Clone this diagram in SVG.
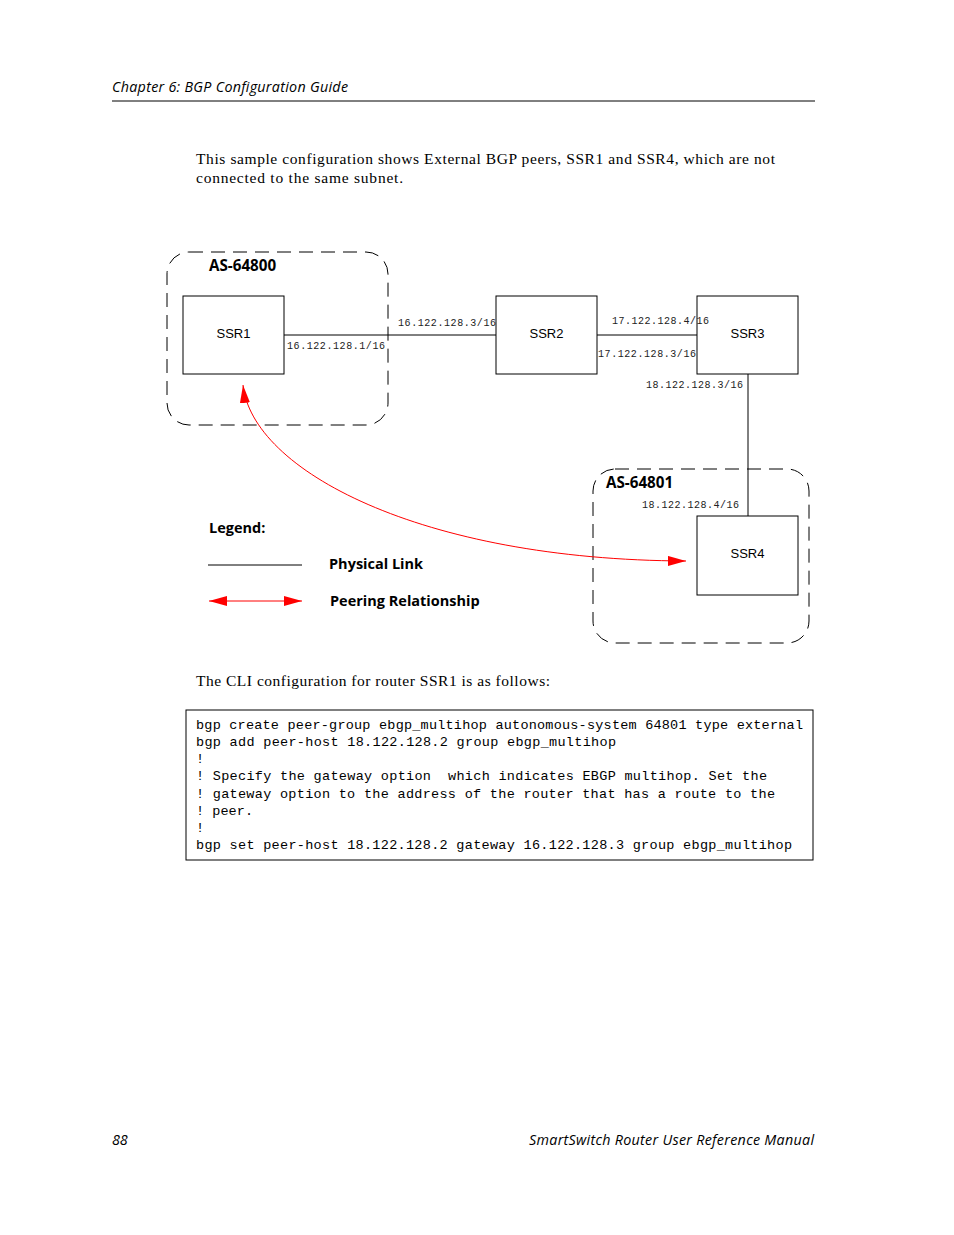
<svg xmlns="http://www.w3.org/2000/svg" width="954" height="1235" viewBox="0 0 954 1235">
<style>
.hdr{font-family:"Open Sans","Liberation Sans",sans-serif;font-style:italic;font-size:14.3px;fill:#000}
.body{font-family:"Liberation Serif",serif;font-size:15.5px;fill:#000}
.node{fill:#fff;stroke:#000;stroke-width:1}
.nlabel{font-family:"Liberation Sans",Arial,sans-serif;font-size:13px;text-anchor:middle;fill:#000}
.ip{font-family:"Liberation Mono",monospace;font-size:10px;fill:#222}
.as{fill:none;stroke:#000;stroke-width:1;stroke-dasharray:14 8}
.bold{font-family:"Open Sans","Liberation Sans",sans-serif;font-weight:bold;font-size:14.5px;fill:#000}
.asl{font-family:"Open Sans","Liberation Sans",sans-serif;font-weight:bold;font-size:15.2px;fill:#000}
.link{stroke:#000;stroke-width:1;fill:none}
.peer{stroke:#f00;stroke-width:1;fill:none}
.code{font-family:"Liberation Mono","DejaVu Sans Mono",monospace;font-size:13.5px;fill:#000}
</style>
<defs>
<marker id="ah" viewBox="0 0 18 10" refX="18" refY="5" markerWidth="18" markerHeight="10" markerUnits="userSpaceOnUse" orient="auto-start-reverse">
<path d="M0,0 L18,5 L0,10 Z" fill="#f00"/>
</marker>
</defs>
<rect width="954" height="1235" fill="#fff"/>
<g id="header">
<text class="hdr" x="112" y="92" textLength="236">Chapter 6: BGP Configuration Guide</text>
<line x1="112" y1="101" x2="815" y2="101" stroke="#000" stroke-width="1"/>
</g>
<g id="intro">
<text class="body" x="196" y="164" textLength="579">This sample configuration shows External BGP peers, SSR1 and SSR4, which are not</text>
<text class="body" x="196" y="183" textLength="207">connected to the same subnet.</text>
</g>
<g id="as64800">
<rect class="as" x="167" y="252" width="221" height="173" rx="22" ry="22"/>
<text class="asl" x="209" y="271">AS-64800</text>
</g>
<g id="as64801">
<rect class="as" x="593" y="469" width="216" height="174" rx="22" ry="22"/>
<text class="asl" x="606" y="488">AS-64801</text>
</g>
<g id="connectors">
<line class="link" x1="284" y1="335" x2="496" y2="335"/>
<line class="link" x1="597" y1="335" x2="697" y2="335"/>
<line class="link" x1="748" y1="374" x2="748" y2="516"/>
<path class="peer" d="M243,385 C252,470 420,560 686,561" marker-start="url(#ah)" marker-end="url(#ah)"/>
</g>
<g id="ssr1">
<rect class="node" x="183" y="296" width="101" height="78"/>
<text class="nlabel" x="233.5" y="338">SSR1</text>
</g>
<g id="ssr2">
<rect class="node" x="496" y="296" width="101" height="78"/>
<text class="nlabel" x="546.5" y="338">SSR2</text>
</g>
<g id="ssr3">
<rect class="node" x="697" y="296" width="101" height="78"/>
<text class="nlabel" x="747.5" y="338">SSR3</text>
</g>
<g id="ssr4">
<rect class="node" x="697" y="516" width="101" height="79"/>
<text class="nlabel" x="747.5" y="558">SSR4</text>
</g>
<g id="labels">
<text class="ip" x="398" y="326" textLength="98">16.122.128.3/16</text>
<text class="ip" x="287" y="349" textLength="98">16.122.128.1/16</text>
<text class="ip" x="612" y="324" textLength="97">17.122.128.4/16</text>
<text class="ip" x="598" y="357" textLength="98">17.122.128.3/16</text>
<text class="ip" x="646" y="388" textLength="97">18.122.128.3/16</text>
<text class="ip" x="642" y="508" textLength="97">18.122.128.4/16</text>
</g>
<g id="legend">
<text class="bold" x="209" y="533">Legend:</text>
<line class="link" x1="208" y1="565" x2="302" y2="565"/>
<text class="bold" x="329" y="569">Physical Link</text>
<line class="peer" x1="209" y1="601" x2="302" y2="601" marker-start="url(#ah)" marker-end="url(#ah)"/>
<text class="bold" x="330" y="606">Peering Relationship</text>
</g>
<g id="cli">
<text class="body" x="196" y="686" textLength="354">The CLI configuration for router SSR1 is as follows:</text>
<rect x="186" y="710" width="627" height="150" fill="none" stroke="#000" stroke-width="1"/>
<text class="code" x="196" y="729" textLength="607" xml:space="preserve">bgp create peer-group ebgp_multihop autonomous-system 64801 type external</text>
<text class="code" x="196" y="746" textLength="420" xml:space="preserve">bgp add peer-host 18.122.128.2 group ebgp_multihop</text>
<text class="code" x="196" y="763" xml:space="preserve">!</text>
<text class="code" x="196" y="780" textLength="571" xml:space="preserve">! Specify the gateway option  which indicates EBGP multihop. Set the</text>
<text class="code" x="196" y="798" textLength="579" xml:space="preserve">! gateway option to the address of the router that has a route to the</text>
<text class="code" x="196" y="815" textLength="57" xml:space="preserve">! peer.</text>
<text class="code" x="196" y="832" xml:space="preserve">!</text>
<text class="code" x="196" y="849" textLength="596" xml:space="preserve">bgp set peer-host 18.122.128.2 gateway 16.122.128.3 group ebgp_multihop</text>
</g>
<g id="footer">
<text class="hdr" x="112" y="1145">88</text>
<text class="hdr" x="814" y="1145" text-anchor="end" textLength="285">SmartSwitch Router User Reference Manual</text>
</g>
</svg>
